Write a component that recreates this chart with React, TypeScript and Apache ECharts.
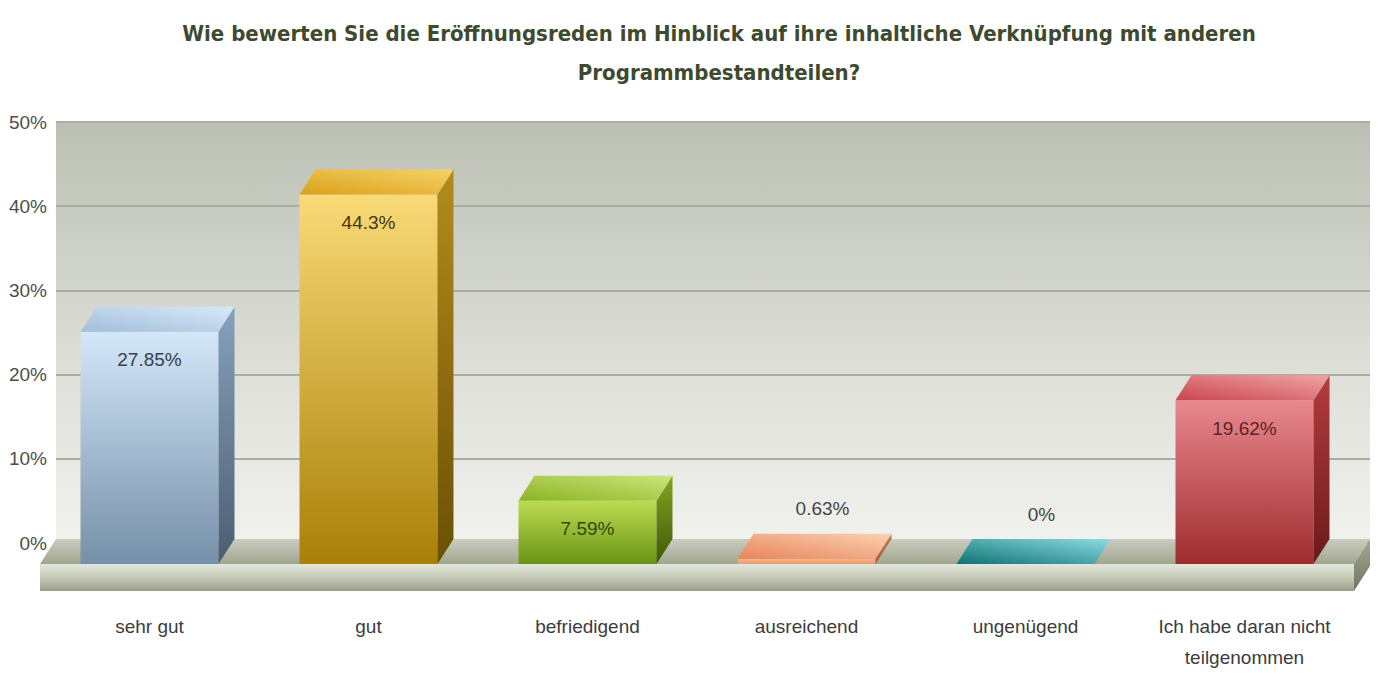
import React, { useEffect, useRef } from 'react';
import * as echarts from 'echarts';

const categories = ['sehr gut', 'gut', 'befriedigend', 'ausreichend', 'ungenügend', 'Ich habe daran nicht\nteilgenommen'];
const values = [27.85, 44.3, 7.59, 0.63, 0, 19.62];
const valueLabels = ['27.85%', '44.3%', '7.59%', '0.63%', '0%', '19.62%'];
const yMin = 0;
const yMax = 50;
const yStep = 10;
const titleText = 'Wie bewerten Sie die Eröffnungsreden im Hinblick auf ihre inhaltliche Verknüpfung mit anderen\nProgrammbestandteilen?';

const palettes = [
  { front: ['#d4e7f9', '#7590a9'], top: ['#a3bed8', '#d6e9fa'], side: ['#86a2bc', '#4b5e70'], label: '#34414e' },
  { front: ['#f9da78', '#a98008'], top: ['#d9a21c', '#f6d266'], side: ['#b28c1c', '#6b5004'], label: '#45380c' },
  { front: ['#bcdc52', '#6a9414'], top: ['#8ab424', '#cce47a'], side: ['#82a422', '#3e5a06'], label: '#34490c' },
  { front: ['#f5b88e', '#ec9a6c'], top: ['#e8845a', '#fbd2b2'], side: ['#c77a52', '#a85a38'], label: '#454545' },
  { front: ['#2a9494', '#157a7a'], top: ['#0f7272', '#8cdce4'], side: ['#1a7070', '#0d5a5a'], label: '#454545' },
  { front: ['#e8888e', '#9e2c2e'], top: ['#c8464e', '#f0a4a6'], side: ['#b43c3e', '#6a1a1a'], label: '#5e2326' },
];

const DX = 16;
const DY = 25;
const SLAB = 27;
const BAR_RATIO = 0.63;
const FONT = '"Liberation Sans", Arial, sans-serif';

const vgrad = (c: string[]) =>
  new echarts.graphic.LinearGradient(0, 0, 0, 1, [
    { offset: 0, color: c[0] },
    { offset: 1, color: c[1] },
  ]);
const dgrad = (c: string[]) =>
  new echarts.graphic.LinearGradient(0, 1, 1, 0, [
    { offset: 0, color: c[0] },
    { offset: 1, color: c[1] },
  ]);

export default function App() {
  const ref = useRef<HTMLDivElement>(null);
  useEffect(() => {
    if (!ref.current) return;
    const chart = echarts.init(ref.current, undefined, { renderer: 'svg' });
    const option: any = {
      animation: false,
      backgroundColor: '#ffffff',
      title: {
        text: titleText,
        left: 714,
        top: 9,
        textAlign: 'center',
        textStyle: {
          fontFamily: '"DejaVu Sans Condensed", "Liberation Sans Narrow", sans-serif',
          fontWeight: 'bold',
          fontSize: 22,
          lineHeight: 39,
          color: '#3e4a30',
        },
      },
      grid: [
        {
          left: 56,
          right: 10,
          top: 122,
          bottom: 130,
          show: true,
          borderWidth: 0,
          backgroundColor: new echarts.graphic.LinearGradient(0, 0, 0, 1, [
            { offset: 0, color: '#bcc0b4' },
            { offset: 0.5, color: '#d9dbd3' },
            { offset: 1, color: '#f1f2ee' },
          ]),
        },
        { left: 40, right: 26, top: 147, bottom: 105 },
      ],
      xAxis: [
        { type: 'category', gridIndex: 0, data: categories, show: false },
        {
          type: 'category',
          gridIndex: 1,
          data: categories,
          axisLine: { show: false },
          axisTick: { show: false },
          axisLabel: {
            margin: 47,
            interval: 0,
            color: '#3c3c3c',
            fontSize: 19,
            lineHeight: 31,
            fontFamily: FONT,
          },
        },
      ],
      yAxis: [
        {
          type: 'value',
          gridIndex: 0,
          min: yMin,
          max: yMax,
          interval: yStep,
          axisLine: { show: false },
          axisTick: { show: false },
          axisLabel: {
            formatter: '{value}%',
            margin: 9,
            color: '#4d4d4d',
            fontSize: 19,
            fontFamily: FONT,
          },
          splitLine: { lineStyle: { color: '#a9af9f', width: 2 } },
        },
        {
          type: 'value',
          gridIndex: 1,
          min: yMin,
          max: yMax,
          interval: yStep,
          show: false,
          splitLine: { show: false },
        },
      ],
      series: [
        {
          type: 'custom',
          name: 'floor',
          xAxisIndex: 1,
          yAxisIndex: 1,
          z: 1,
          silent: true,
          data: [[0, 0]],
          renderItem: (params: any) => {
            const cs = params.coordSys;
            const xL = cs.x;
            const xR = cs.x + cs.width;
            const y0 = cs.y + cs.height;
            return {
              type: 'group',
              children: [
                {
                  type: 'polygon',
                  shape: { points: [[xL, y0], [xR, y0], [xR + DX, y0 - DY], [xL + DX, y0 - DY]] },
                  style: {
                    fill: new echarts.graphic.LinearGradient(0, 0, 0, 1, [
                      { offset: 0, color: '#c9ccbf' },
                      { offset: 1, color: '#a1a68f' },
                    ]),
                  },
                },
                {
                  type: 'rect',
                  shape: { x: xL, y: y0, width: xR - xL, height: SLAB },
                  style: {
                    fill: new echarts.graphic.LinearGradient(0, 0, 0, 1, [
                      { offset: 0, color: '#e4e7dc' },
                      { offset: 0.45, color: '#c9cebb' },
                      { offset: 1, color: '#9aa08b' },
                    ]),
                  },
                },
                {
                  type: 'polygon',
                  shape: { points: [[xR, y0], [xR + DX, y0 - DY], [xR + DX, y0 - DY + SLAB], [xR, y0 + SLAB]] },
                  style: { fill: vgrad(['#a3a993', '#6f7562']) },
                },
              ],
            };
          },
        },
        {
          type: 'custom',
          name: 'bars',
          xAxisIndex: 1,
          yAxisIndex: 1,
          z: 2,
          data: values.map((v, i) => [i, v]),
          encode: { x: 0, y: 1 },
          renderItem: (params: any, api: any) => {
            const i = api.value(0);
            const v = api.value(1);
            const pTop = api.coord([i, v]);
            const pBot = api.coord([i, 0]);
            const band = api.size([1, 0])[0];
            const w = band * BAR_RATIO;
            const x0 = pTop[0] - w / 2;
            const x1 = x0 + w;
            const yT = pTop[1];
            const yB = pBot[1];
            const h = yB - yT;
            const pal = palettes[i];
            const children: any[] = [];
            if (h > 0.5) {
              children.push({
                type: 'rect',
                shape: { x: x0, y: yT, width: w, height: h },
                style: { fill: vgrad(pal.front) },
              });
              children.push({
                type: 'polygon',
                shape: { points: [[x1, yT], [x1 + DX, yT - DY], [x1 + DX, yB - DY], [x1, yB]] },
                style: { fill: vgrad(pal.side) },
              });
            }
            children.push({
              type: 'polygon',
              shape: { points: [[x0, yT], [x1, yT], [x1 + DX, yT - DY], [x0 + DX, yT - DY]] },
              style: { fill: dgrad(pal.top) },
            });
            const inside = h > 30;
            children.push({
              type: 'text',
              style: {
                text: valueLabels[i],
                x: inside ? pTop[0] : pTop[0] + DX,
                y: inside ? yT + 28 : yT - DY - 25,
                align: 'center',
                verticalAlign: 'middle',
                fill: pal.label,
                fontSize: 19,
                fontFamily: FONT,
              },
            });
            return { type: 'group', children };
          },
        },
      ],
    };
    chart.setOption(option);
    return () => chart.dispose();
  }, []);
  return (
    <div
      ref={ref}
      style={{ position: 'fixed', left: 0, top: 0, width: 1380, height: 673, background: '#fff' }}
    />
  );
}
